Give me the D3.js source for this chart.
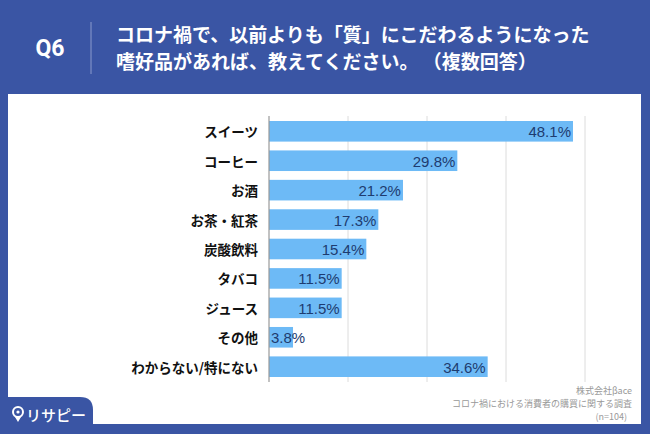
<!DOCTYPE html>
<html><head><meta charset="utf-8">
<script src="https://cdn.jsdelivr.net/npm/d3@7/dist/d3.min.js"></script>
<style>html,body{margin:0;padding:0;background:#3A55A4;}</style>
</head><body>
<svg id="c" width="650" height="434"></svg>
<script>
const categories = ["スイーツ","コーヒー","お酒","お茶・紅茶","炭酸飲料","タバコ","ジュース","その他","わからない/特にない"];
const values = [48.1,29.8,21.2,17.3,15.4,11.5,11.5,3.8,34.6];
const gridTicks = [0,12.5,25,37.5,50];
const titleLines = ["コロナ禍で、以前よりも「質」にこだわるようになった","嗜好品があれば、教えてください。 （複数回答）"];
const footerLines = ["株式会社βace","コロナ禍における消費者の購買に関する調査","(n=104)"];

const svg = d3.select("#c");
const jp = "'Noto Sans CJK JP','Noto Sans',sans-serif";
const BLUE = "#3A55A4";
svg.append("rect").attr("width",650).attr("height",434).attr("fill",BLUE);
svg.append("rect").attr("x",8).attr("y",94).attr("width",633).attr("height",330).attr("fill","#fff");

// header
svg.append("text").attr("x",50).attr("y",48).attr("text-anchor","middle").attr("dominant-baseline","central")
  .attr("fill","#fff").attr("font-family","Roboto,'Liberation Sans',sans-serif").attr("font-weight","bold").attr("font-size",23).text("Q6");
svg.append("line").attr("x1",91).attr("x2",91).attr("y1",22).attr("y2",74).attr("stroke","#8a9bcc").attr("stroke-width",1);
titleLines.forEach((t,i)=>{
  svg.append("text").attr("x",116).attr("y",33+i*27).attr("dominant-baseline","central")
    .attr("fill","#fff").attr("font-family",jp).attr("font-weight","bold").attr("font-size",19).text(t);
});

// chart
const x = d3.scaleLinear().domain([0,50]).range([269,585]);
const y = d3.scaleBand().domain(categories).range([116,382]).paddingInner(0.3).paddingOuter(0.17);
const g = svg.append("g");
g.selectAll("line.grid").data(gridTicks.slice(1)).join("line").attr("class","grid")
  .attr("x1",d=>x(d)).attr("x2",d=>x(d)).attr("y1",116).attr("y2",382)
  .attr("stroke","#dcdcdc").attr("stroke-width",1);
const data = categories.map((c,i)=>({c,v:values[i]}));
g.selectAll("rect.bar").data(data).join("rect").attr("class","bar")
  .attr("x",x(0)).attr("y",d=>y(d.c)).attr("width",d=>x(d.v)-x(0)).attr("height",y.bandwidth())
  .attr("fill","#6DBAF6");
g.append("line").attr("x1",x(0)).attr("x2",x(0)).attr("y1",116).attr("y2",382).attr("stroke","#999").attr("stroke-width",1.2);

g.selectAll("text.cat").data(data).join("text").attr("class","cat")
  .attr("x",258).attr("y",d=>y(d.c)+y.bandwidth()/2).attr("text-anchor","end").attr("dominant-baseline","central")
  .attr("font-family",jp).attr("font-weight","bold").attr("font-size",13.5).attr("fill","#111").text(d=>d.c);

g.selectAll("text.val").data(data).join("text").attr("class","val")
  .attr("x",d=> (x(d.v)-x(0) > 50) ? x(d.v)-2 : x(0)+2)
  .attr("text-anchor",d=> (x(d.v)-x(0) > 50) ? "end" : "start")
  .attr("y",d=>y(d.c)+y.bandwidth()/2+0.5).attr("dominant-baseline","central")
  .attr("font-family","'Liberation Sans',Arial,sans-serif").attr("font-size",15).attr("fill","#1E3C70")
  .text(d=>d.v.toFixed(1)+"%");

// footer
footerLines.forEach((t,i)=>{
  svg.append("text").attr("x",i===2?627:632).attr("y",390+i*13).attr("text-anchor","end").attr("dominant-baseline","central")
    .attr("font-family",jp).attr("font-size",9).attr("fill","#999").text(t);
});

// logo tab
svg.append("path").attr("d","M0,397 L80,397 Q93,397 93,410 L93,434 L0,434 Z").attr("fill",BLUE);
const lg = svg.append("g").attr("transform","translate(18,414)");
lg.append("circle").attr("cx",0).attr("cy",-2).attr("r",5).attr("fill","none").attr("stroke","#fff").attr("stroke-width",2);
lg.append("circle").attr("cx",0).attr("cy",-2).attr("r",1.6).attr("fill","#fff");
lg.append("path").attr("d","M-3,3 L0,8 L3,3 Z").attr("fill","#fff");
lg.append("text").attr("x",8).attr("y",0).attr("dominant-baseline","central").attr("fill","#fff")
  .attr("font-family",jp).attr("font-weight","500").attr("font-size",15).text("リサピー");
</script>
</body></html>
